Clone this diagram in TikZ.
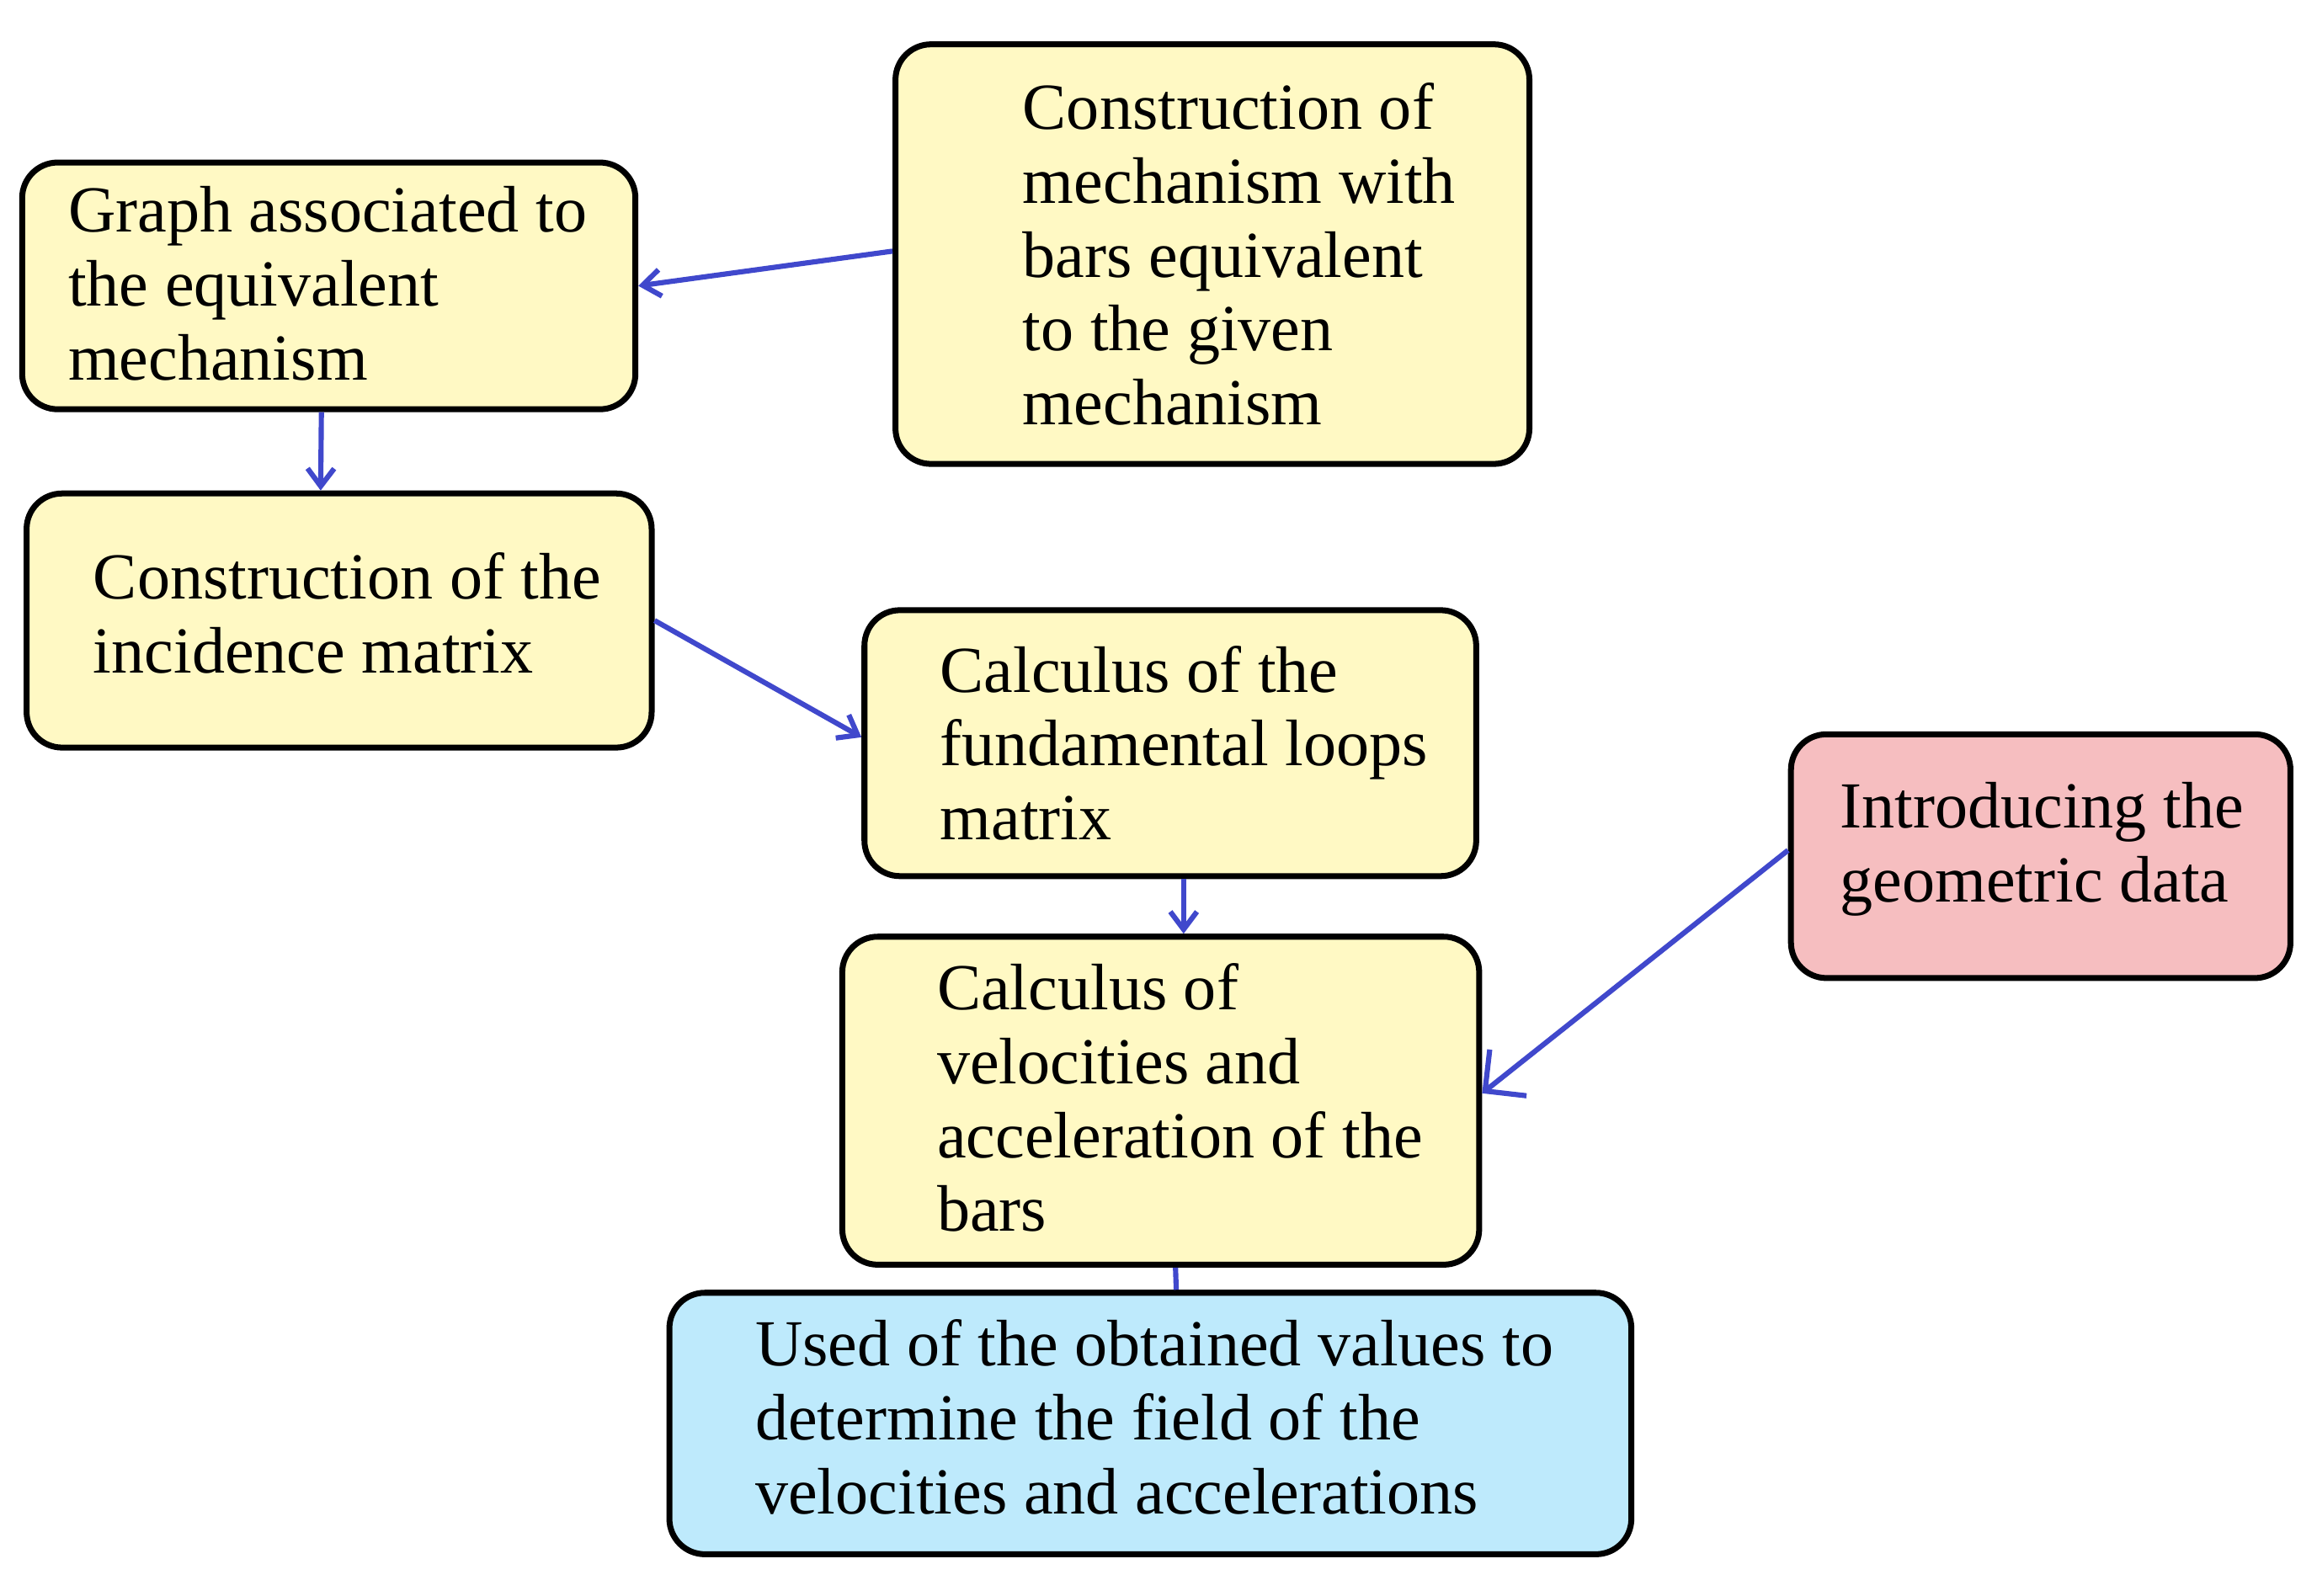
\documentclass[tikz,border=0pt]{standalone}
\usepackage{fontspec}
\setmainfont{Liberation Serif}
\usetikzlibrary{arrows.meta}
\definecolor{yel}{RGB}{255,249,196}
\definecolor{pnk}{RGB}{246,190,192}
\definecolor{blu}{RGB}{190,234,252}
\definecolor{arr}{RGB}{64,72,204}
\begin{document}
\begin{tikzpicture}[x=1pt,y=-1pt,
 box/.style={draw=black,line width=4pt,rounded corners=24pt,inner sep=0pt},
 txt/.style={anchor=west,align=left,inner sep=0pt,font=\fontsize{44.5}{50}\selectfont},
 con/.style={draw=arr,line width=3.5pt,-{Straight Barb[length=12pt,width=18pt]}}]
\useasboundingbox (0,0) rectangle (1568,1080);
\node[box,fill=yel,minimum width=415pt,minimum height=167pt] (g) at (222.5,193.5) {};
\node[txt] (gt) at (46,192) {Graph associated to\\the equivalent\\mechanism};
\node[box,fill=yel,minimum width=429pt,minimum height=284pt] (m) at (820.5,172) {};
\node[txt] (mt) at (692,172) {Construction of\\mechanism with\\bars equivalent\\to the given\\mechanism};
\node[box,fill=yel,minimum width=423pt,minimum height=172pt] (i) at (229.5,420) {};
\node[txt] (it) at (63,415) {Construction of the\\incidence matrix};
\node[box,fill=yel,minimum width=414pt,minimum height=180pt] (f) at (792,503) {};
\node[txt] (ft) at (636,503) {Calculus of the\\fundamental loops\\matrix};
\node[box,fill=yel,minimum width=431pt,minimum height=222pt] (v) at (785.5,745) {};
\node[txt] (vt) at (634,743) {Calculus of\\velocities and\\acceleration of the\\bars};
\node[box,fill=pnk,minimum width=338pt,minimum height=165pt] (p) at (1381,579.5) {};
\node[txt] (pt) at (1245,575) {Introducing the\\geometric data};
\node[box,fill=blu,minimum width=651pt,minimum height=177pt] (u) at (778.5,963.5) {};
\node[txt] (ut) at (511,959) {Used of the obtained values to\\determine the field of the\\velocities and accelerations};
\draw[con] (m.west) ++(0,-2) -- (g.east);
\draw[con] (g.south) ++(-5,0) -- ([xshift=-12.5pt]i.north);
\draw[con] ([yshift=0pt]i.east) -- ([yshift=4pt]f.west);
\draw[con] (f.south) ++(9,0) -- ([xshift=15.5pt]v.north);
\draw[draw=arr,line width=3.5pt,-{Straight Barb[length=20pt,width=40pt,line width=3.5pt]}] ([yshift=4pt]p.west) -- ([yshift=5pt]v.east);
\draw[draw=arr,line width=3.5pt] ([xshift=10pt]v.south) -- ([xshift=17.5pt]u.north);
\end{tikzpicture}
\end{document}
